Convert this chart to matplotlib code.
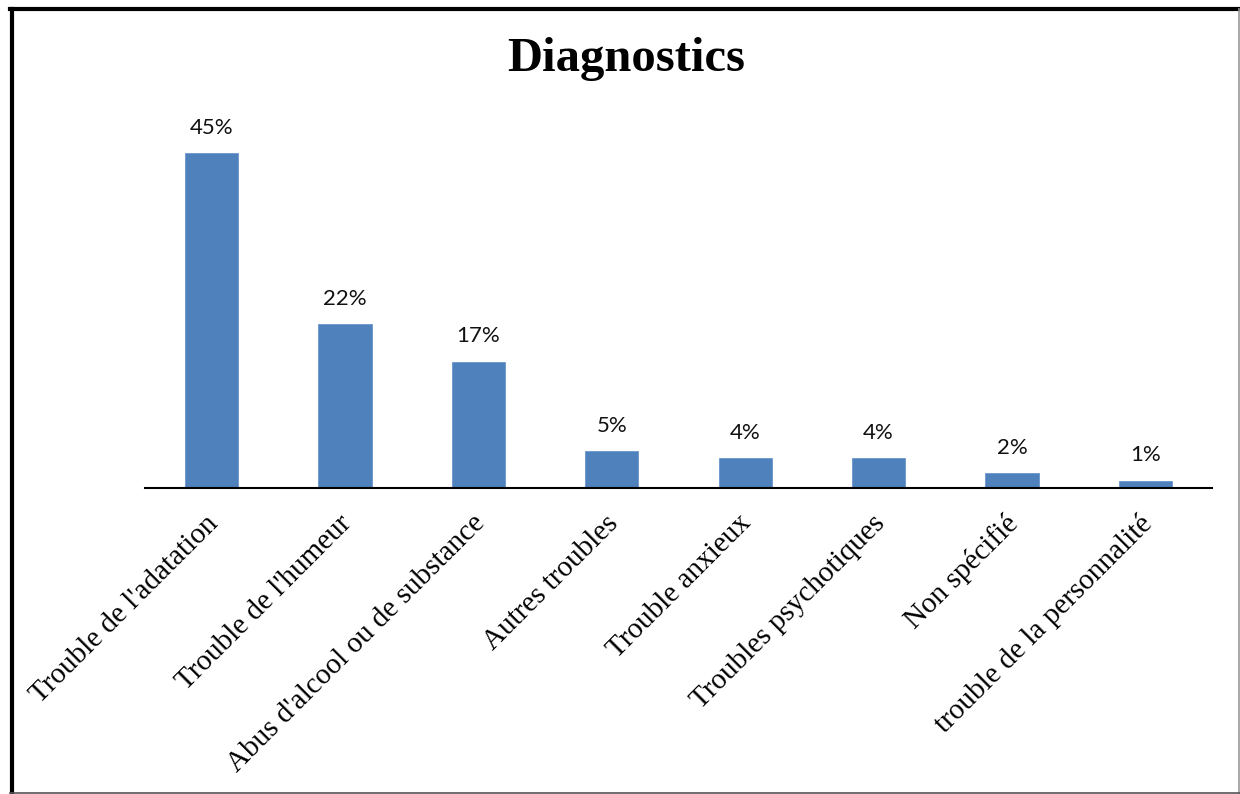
import matplotlib
matplotlib.use("Agg")
import matplotlib.pyplot as plt
import matplotlib.transforms as mtransforms
from matplotlib.lines import Line2D

# données du graphique
categories = ["Trouble de l'adatation", "Trouble de l'humeur", "Abus d'alcool ou de substance",
              "Autres troubles", "Trouble anxieux", "Troubles psychotiques", "Non spécifié",
              "trouble de la personnalité"]
valeurs = [45, 22, 17, 5, 4, 4, 2, 1]
etiquettes = [f"{v}%" for v in valeurs]

W, H = 1240, 794
fig = plt.figure(figsize=(W / 100, H / 100), dpi=100)

def fx(px):
    return px / W

def fy(py):
    return 1 - py / H

ax = fig.add_axes([fx(145), fy(488), fx(1212) - fx(145), fy(100) - fy(488)])
x = range(len(categories))
ax.bar(x, valeurs, width=0.4, color="#4F81BD", edgecolor="#6A96CC", linewidth=0.6, zorder=2)
ax.set_xlim(-0.5, len(categories) - 0.5)
ax.set_ylim(0, 388 / 7.44)

for i, (v, t) in enumerate(zip(valeurs, etiquettes)):
    ax.annotate(t, (i, v), xytext=(0, 11), textcoords="offset points",
                ha="center", va="bottom", fontsize=16, family="Lato", color="#111111")

for s in ["top", "right", "left"]:
    ax.spines[s].set_visible(False)
ax.spines["bottom"].set_linewidth(1.5)
ax.spines["bottom"].set_color("black")
ax.set_yticks([])
ax.set_xticks(list(x))
ax.set_xticklabels(categories, rotation=45, ha="right", va="top", rotation_mode="anchor",
                   fontsize=21, family="Liberation Serif")
ax.tick_params(axis="x", length=0, pad=16)
decalage = mtransforms.ScaledTranslation(-7 / 100, 0, fig.dpi_scale_trans)
for lab in ax.get_xticklabels():
    lab.set_transform(lab.get_transform() + decalage)

fig.text(fx(626), fy(59), "Diagnostics", ha="center", va="center",
         fontsize=35, fontweight="bold", family="Liberation Serif")

# cadre autour de la figure
fig.add_artist(Line2D([fx(12), fx(12)], [fy(9), fy(794)], color="black", lw=3, transform=fig.transFigure))
fig.add_artist(Line2D([fx(10), fx(1240)], [fy(9), fy(9)], color="black", lw=3, transform=fig.transFigure))
fig.add_artist(Line2D([fx(1238.5), fx(1238.5)], [fy(9), fy(794)], color="#999999", lw=1.2, transform=fig.transFigure))
fig.add_artist(Line2D([fx(10), fx(1240)], [fy(792.5), fy(792.5)], color="#555555", lw=1.2, transform=fig.transFigure))

fig.savefig("out.png", dpi=100)
